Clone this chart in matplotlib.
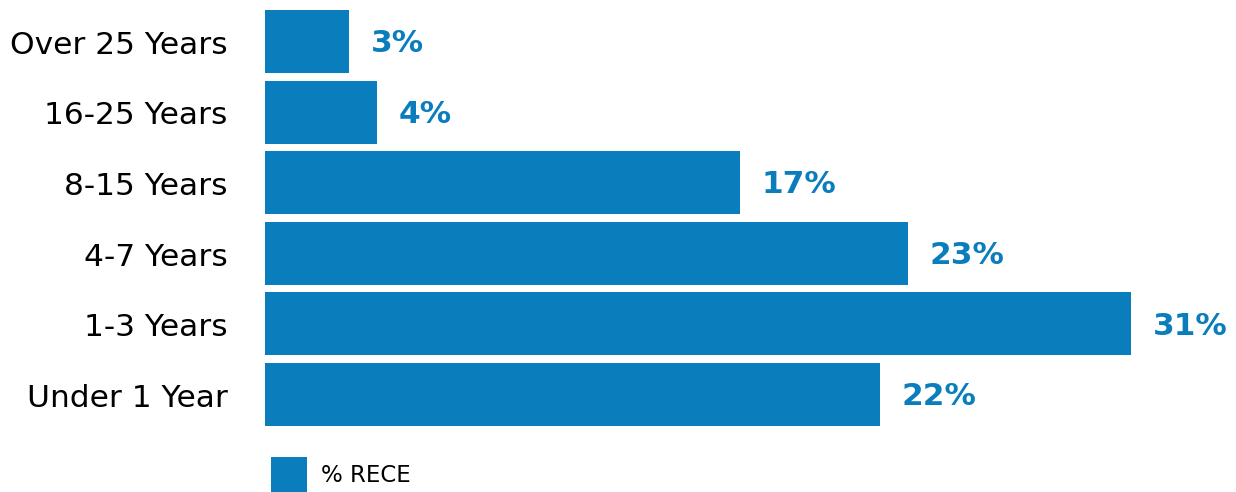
import matplotlib
matplotlib.use("Agg")
import matplotlib.pyplot as plt

# data (top to bottom)
categories = ['Over 25 Years', '16-25 Years', '8-15 Years', '4-7 Years', '1-3 Years', 'Under 1 Year']
values = [3, 4, 17, 23, 31, 22]
series_name = '% RECE'

blue = '#0A7DBD'

plt.rcParams['font.family'] = ['DejaVu Sans']

fig = plt.figure(figsize=(12.36, 4.92), dpi=100)
ax = fig.add_axes([265 / 1236, 1 - 429.8 / 492, 1 - 265 / 1236, 423.6 / 492])

pos = list(range(len(categories)))
bars = ax.barh(pos, values, height=0.89, color=blue, label=series_name)

for p, v in zip(pos, values):
    ax.text(v + 0.78, p + 0.03, f'{v}%', va='center', ha='left', color=blue,
            fontsize=22.5, fontweight='bold')

ax.set_xlim(0, 34.75)
ax.set_ylim(5.5, -0.5)
ax.set_yticks([p + 0.01 for p in pos])
ax.set_yticklabels(categories, fontsize=22.5)
ax.tick_params(axis='y', length=0, pad=27)
ax.set_xticks([])
for s in ax.spines.values():
    s.set_visible(False)

fig.legend(handles=[bars], labels=[series_name], loc='lower left',
           bbox_to_anchor=(271 / 1236, 0.0), frameon=False, fontsize=16.5,
           handlelength=1.55, handleheight=1.95, borderpad=0, borderaxespad=0,
           handletextpad=0.65)

fig.savefig('out.png', dpi=100)
